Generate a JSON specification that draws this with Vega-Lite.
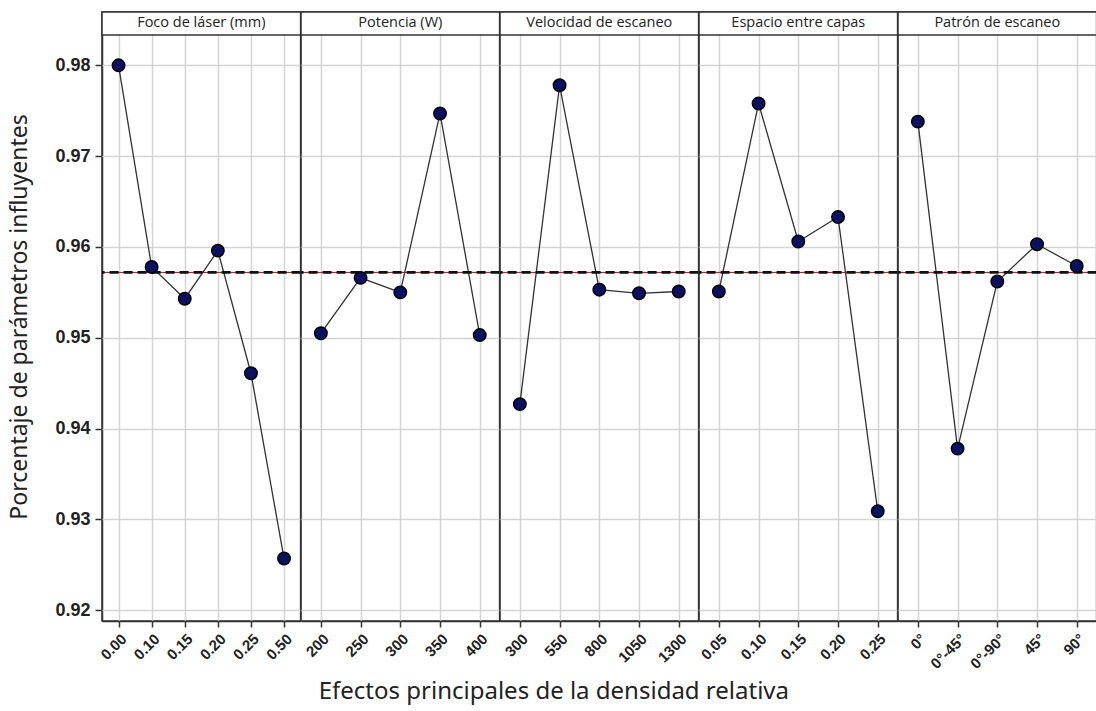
{
  "$schema": "https://vega.github.io/schema/vega-lite/v6.json",
  "background": "white",
  "padding": {"left": 8, "top": 10, "right": 0, "bottom": 5},
  "bounds": "flush",
  "data": {"values": [
    {"param": "Foco de láser (mm)", "nivel": "0.00", "ord": 1, "valor": 0.9800},
    {"param": "Foco de láser (mm)", "nivel": "0.10", "ord": 2, "valor": 0.9578},
    {"param": "Foco de láser (mm)", "nivel": "0.15", "ord": 3, "valor": 0.9543},
    {"param": "Foco de láser (mm)", "nivel": "0.20", "ord": 4, "valor": 0.9596},
    {"param": "Foco de láser (mm)", "nivel": "0.25", "ord": 5, "valor": 0.9461},
    {"param": "Foco de láser (mm)", "nivel": "0.50", "ord": 6, "valor": 0.9257},
    {"param": "Potencia (W)", "nivel": "200", "ord": 1, "valor": 0.9505},
    {"param": "Potencia (W)", "nivel": "250", "ord": 2, "valor": 0.9566},
    {"param": "Potencia (W)", "nivel": "300", "ord": 3, "valor": 0.9550},
    {"param": "Potencia (W)", "nivel": "350", "ord": 4, "valor": 0.9747},
    {"param": "Potencia (W)", "nivel": "400", "ord": 5, "valor": 0.9503},
    {"param": "Velocidad de escaneo", "nivel": "300", "ord": 1, "valor": 0.9427},
    {"param": "Velocidad de escaneo", "nivel": "550", "ord": 2, "valor": 0.9778},
    {"param": "Velocidad de escaneo", "nivel": "800", "ord": 3, "valor": 0.9553},
    {"param": "Velocidad de escaneo", "nivel": "1050", "ord": 4, "valor": 0.9549},
    {"param": "Velocidad de escaneo", "nivel": "1300", "ord": 5, "valor": 0.9551},
    {"param": "Espacio entre capas", "nivel": "0.05", "ord": 1, "valor": 0.9551},
    {"param": "Espacio entre capas", "nivel": "0.10", "ord": 2, "valor": 0.9758},
    {"param": "Espacio entre capas", "nivel": "0.15", "ord": 3, "valor": 0.9606},
    {"param": "Espacio entre capas", "nivel": "0.20", "ord": 4, "valor": 0.9633},
    {"param": "Espacio entre capas", "nivel": "0.25", "ord": 5, "valor": 0.9309},
    {"param": "Patrón de escaneo", "nivel": "0°", "ord": 1, "valor": 0.9738},
    {"param": "Patrón de escaneo", "nivel": "0°-45°", "ord": 2, "valor": 0.9378},
    {"param": "Patrón de escaneo", "nivel": "0°-90°", "ord": 3, "valor": 0.9562},
    {"param": "Patrón de escaneo", "nivel": "45°", "ord": 4, "valor": 0.9603},
    {"param": "Patrón de escaneo", "nivel": "90°", "ord": 5, "valor": 0.9579}
  ]},
  "title": {
    "text": "Efectos principales de la densidad relativa",
    "orient": "bottom",
    "anchor": "middle",
    "font": "Noto Sans",
    "fontSize": 24,
    "fontWeight": "normal",
    "color": "#222222",
    "offset": 8
  },
  "facet": {
    "column": {
      "field": "param",
      "type": "nominal",
      "sort": ["Foco de láser (mm)", "Potencia (W)", "Velocidad de escaneo", "Espacio entre capas", "Patrón de escaneo"],
      "header": {"labels": false, "title": null}
    }
  },
  "spacing": 0,
  "resolve": {"scale": {"x": "independent"}},
  "spec": {
    "width": 198.6,
    "height": 609,
    "layer": [
      {
        "mark": {"type": "line", "color": "#333333", "strokeWidth": 1.3},
        "encoding": {
          "x": {
            "field": "nivel", "type": "ordinal",
            "sort": {"field": "ord", "op": "min"},
            "scale": {"type": "point", "padding": 0.5},
            "axis": {"title": null, "labelAngle": -45, "grid": true}
          },
          "y": {
            "field": "valor", "type": "quantitative",
            "scale": {"domain": [0.91882, 0.98587], "nice": false, "zero": false},
            "axis": {
              "title": "Porcentaje de parámetros influyentes",
              "values": [0.92, 0.93, 0.94, 0.95, 0.96, 0.97, 0.98],
              "format": ".2f",
              "grid": true
            }
          }
        }
      },
      {
        "transform": [{"aggregate": [{"op": "count", "as": "n"}], "groupby": ["param"]}],
        "mark": {"type": "rule", "color": "#8b1a1a", "strokeWidth": 1},
        "encoding": {"y": {"datum": 0.9572, "type": "quantitative"}}
      },
      {
        "transform": [{"aggregate": [{"op": "count", "as": "n"}], "groupby": ["param"]}],
        "mark": {"type": "rule", "color": "#111111", "strokeWidth": 2.8, "strokeDash": [9, 5]},
        "encoding": {"y": {"datum": 0.9572, "type": "quantitative"}}
      },
      {
        "mark": {"type": "circle", "color": "#0b1160", "stroke": "#000000", "strokeWidth": 1.5, "opacity": 1, "size": 155},
        "encoding": {
          "x": {"field": "nivel", "type": "ordinal", "sort": {"field": "ord", "op": "min"}},
          "y": {"field": "valor", "type": "quantitative"}
        }
      },
      {
        "transform": [{"aggregate": [{"op": "count", "as": "n"}], "groupby": ["param"]}],
        "mark": {"type": "rect", "fill": "white", "stroke": "#333333", "strokeWidth": 1.5},
        "encoding": {
          "y": {"datum": 0.98334, "type": "quantitative"},
          "y2": {"datum": 0.98587}
        }
      },
      {
        "transform": [{"aggregate": [{"op": "count", "as": "n"}], "groupby": ["param"]}],
        "mark": {"type": "text", "font": "Open Sans", "fontSize": 14.5, "color": "#222222", "baseline": "middle", "align": "center"},
        "encoding": {
          "y": {"datum": 0.984605, "type": "quantitative"},
          "text": {"field": "param", "type": "nominal"}
        }
      }
    ]
  },
  "config": {
    "view": {"stroke": "#333333", "strokeWidth": 1.5},
    "axis": {
      "gridColor": "#d4d4d4",
      "gridWidth": 1.5,
      "domainColor": "#333333",
      "domainWidth": 1.5,
      "tickColor": "#333333",
      "tickWidth": 1.5,
      "tickSize": 6,
      "labelColor": "#222222",
      "labelFont": "Liberation Sans",
      "labelFontWeight": "bold"
    },
    "axisY": {
      "labelFontSize": 18,
      "labelPadding": 5,
      "tickSize": 7,
      "titleFont": "Noto Sans",
      "titleFontSize": 23,
      "titleFontWeight": "normal",
      "titleColor": "#222222",
      "titlePadding": 23
    },
    "axisX": {
      "labelFontSize": 15,
      "labelPadding": 4
    }
  }
}
